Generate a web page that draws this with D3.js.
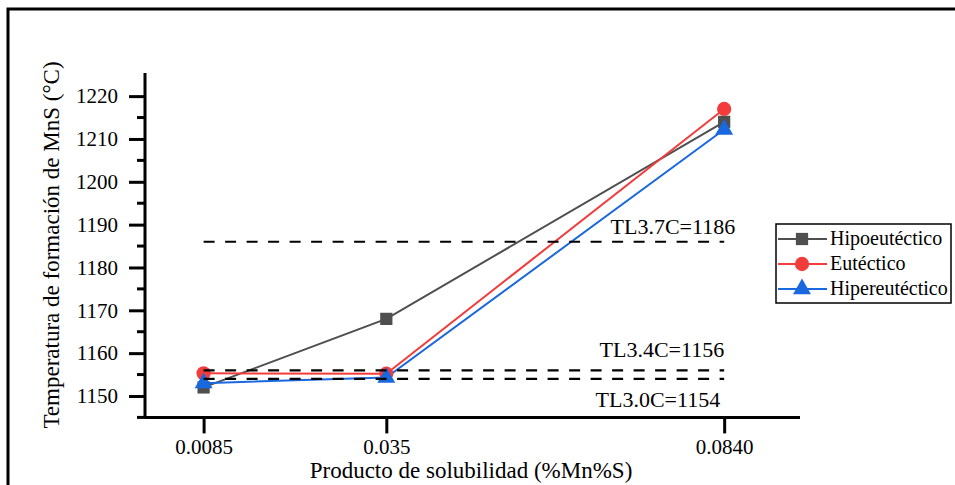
<!DOCTYPE html>
<html><head><meta charset="utf-8">
<script src="https://cdn.jsdelivr.net/npm/d3@7"></script>
<style>
body{margin:0;background:#fff;}
svg{display:block;}
svg text{font-family:"Liberation Serif","Tinos","Times New Roman","DejaVu Serif",serif;}
</style>
</head><body>
<svg id="c" width="955" height="485"></svg>
<script>
const xValues = [0.0085, 0.035, 0.084];
const xTickLabels = ["0.0085", "0.035", "0.0840"];
const seriesNames = ["Hipoeutéctico", "Eutéctico", "Hipereutéctico"];
const hipo = [1152, 1168, 1214];
const eut = [1155.3, 1155.2, 1217];
const hiper = [1153, 1154.3, 1212.2];
const refValues = [1186, 1156, 1154];
const refLabels = ["TL3.7C=1186", "TL3.4C=1156", "TL3.0C=1154"];
const yTicks = [1150, 1160, 1170, 1180, 1190, 1200, 1210, 1220];

const colors = ["#4f4f4f", "#f23c3c", "#1a68dd"];
const symbols = [d3.symbolSquare, d3.symbolCircle, d3.symbolTriangle];
const symSizes = [150, 160, 140];

const svg = d3.select("#c");
const x = d3.scaleLinear().domain([0, 0.095]).range([145, 800]);
const y = d3.scaleLinear().domain([1145, 1225.4]).range([417.4, 73]);

// outer frame (top and left)
svg.append("path").attr("d", "M8,485 L8,9 L955,9").attr("fill", "none").attr("stroke", "#000").attr("stroke-width", 3);

// Y axis
const yAxis = d3.axisLeft(y).tickValues(yTicks).tickFormat(d3.format("d")).tickSize(16).tickPadding(11);
const gy = svg.append("g").attr("transform", "translate(145,0)").call(yAxis);
gy.attr("font-family", null);
gy.select(".domain").attr("stroke-width", 3).attr("d", `M0,${y(1225.4)}V${y(1145)}`);
gy.selectAll(".tick line").attr("stroke-width", 3);
gy.selectAll(".tick text").attr("font-size", 21).attr("fill", "#000");
// minor ticks
const minor = yTicks.map(v => v + 5).filter(v => v < 1225);
minor.push(1145);
gy.selectAll(".minor").data(minor).enter().append("line")
  .attr("x1", -8).attr("x2", 0).attr("y1", d => y(d)).attr("y2", d => y(d))
  .attr("stroke", "#000").attr("stroke-width", 3);

// X axis
const xAxis = d3.axisBottom(x).tickValues(xValues).tickFormat((d, i) => xTickLabels[i]).tickSize(16).tickPadding(6);
const gx = svg.append("g").attr("transform", `translate(0,${y(1145)})`).call(xAxis);
gx.attr("font-family", null);
gx.select(".domain").attr("stroke-width", 3).attr("d", `M${x(0)},0H${x(0.095)}`);
gx.selectAll(".tick line").attr("stroke-width", 3);
gx.selectAll(".tick text").attr("font-size", 21).attr("fill", "#000");

// Axis titles
svg.append("text").attr("transform", "translate(59,245) rotate(-90)").attr("text-anchor", "middle")
  .attr("font-size", 23).text("Temperatura de formación de MnS (°C)");
svg.append("text").attr("x", 471).attr("y", 478).attr("text-anchor", "middle")
  .attr("font-size", 23).text("Producto de solubilidad (%Mn%S)");

// Series
const allSeries = [hipo, eut, hiper];
const line = d3.line().x((d, i) => x(xValues[i])).y(d => y(d));
allSeries.forEach((s, k) => {
  svg.append("path").datum(s).attr("d", line).attr("fill", "none")
    .attr("stroke", colors[k]).attr("stroke-width", 2);
});
allSeries.forEach((s, k) => {
  svg.selectAll(".m" + k).data(s).enter().append("path")
    .attr("transform", (d, i) => `translate(${x(xValues[i])},${y(d)})`)
    .attr("d", d3.symbol().type(symbols[k]).size(symSizes[k])).attr("fill", colors[k]);
});

// Reference lines
svg.selectAll(".ref").data(refValues).enter().append("line")
  .attr("x1", x(xValues[0])).attr("x2", x(xValues[2]))
  .attr("y1", d => y(d)).attr("y2", d => y(d))
  .attr("stroke", "#000").attr("stroke-width", 2.2).attr("stroke-dasharray", "11,10.5");
const refLabelPos = [{dx: 11, dy: -8}, {dx: 0, dy: -13}, {dx: -4, dy: 28}];
refLabels.forEach((t, i) => {
  svg.append("text").attr("x", x(xValues[2]) + refLabelPos[i].dx).attr("y", y(refValues[i]) + refLabelPos[i].dy)
    .attr("text-anchor", "end").attr("font-size", 22).text(t);
});

// Legend
const lg = svg.append("g");
lg.append("rect").attr("x", 776).attr("y", 224).attr("width", 175).attr("height", 79)
  .attr("fill", "#fff").attr("stroke", "#000").attr("stroke-width", 1.5);
seriesNames.forEach((n, k) => {
  const yy = 239 + k * 25;
  lg.append("line").attr("x1", 778).attr("x2", 827).attr("y1", yy).attr("y2", yy)
    .attr("stroke", colors[k]).attr("stroke-width", 2);
  lg.append("path").attr("transform", `translate(802,${yy})`)
    .attr("d", d3.symbol().type(symbols[k]).size(symSizes[k])).attr("fill", colors[k]);
  lg.append("text").attr("x", 830).attr("y", yy + 6).attr("font-size", 20).text(n);
});
</script>
</body></html>
